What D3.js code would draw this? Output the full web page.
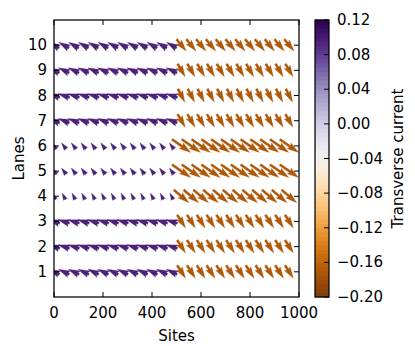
<!DOCTYPE html>
<html><head><meta charset="utf-8">
<script src="https://cdn.jsdelivr.net/npm/d3@7"></script>
<style>body{margin:0;background:#fff} text{font-family:"DejaVu Sans",sans-serif;fill:#000}</style>
</head><body>
<svg id="c" width="415" height="346"></svg>
<script>
// ---------- data ----------
const lanes = [1, 2, 3, 4, 5, 6, 7, 8, 9, 10];
const sites = [0, 40, 80, 120, 160, 200, 240, 280, 320, 360, 400, 440, 480,
               520, 560, 600, 640, 680, 720, 760, 800, 840, 880, 920, 960];
const boundarySite = 500;
// longitudinal / transverse current per lane, left segment (sites < 500)
const leftLongitudinal = [-0.15, -0.16, -0.16, -0.045, -0.066, -0.066, -0.155, -0.16, -0.15, -0.14];
const leftTransverse   = [0.07, 0.05, 0.05, 0.09, 0.088, 0.088, 0.06, 0.05, 0.07, 0.08];
// right segment (sites > 500)
const rightLongitudinal = [0.115, 0.115, 0.115, 0.21, 0.26, 0.26, 0.105, 0.095, 0.105, 0.135];
const rightTransverse   = [-0.18, -0.18, -0.18, -0.18, -0.18, -0.18, -0.18, -0.185, -0.18, -0.165];
// colour value (transverse current) per lane
const leftColourValue  = [0.095, 0.095, 0.095, 0.095, 0.095, 0.095, 0.095, 0.095, 0.095, 0.095];
const rightColourValue = [-0.17, -0.17, -0.17, -0.17, -0.17, -0.17, -0.17, -0.17, -0.17, -0.17];
const xTicks = [0, 200, 400, 600, 800, 1000];
const cbTicks = [0.12, 0.08, 0.04, 0.00, -0.04, -0.08, -0.12, -0.16, -0.20];
const cmin = -0.20, cmax = 0.12;
const puorColours = ["#7f3b08","#b35806","#e08214","#fdb863","#fee0b6","#f7f7f7",
                     "#d8daeb","#b2abd2","#8073ac","#542788","#2d004b"];

// ---------- layout ----------
const L = 54, R = 299, T = 20, B = 297;
const svg = d3.select("#c");
const x = d3.scaleLinear().domain([0, 1000]).range([L, R]);
const y = d3.scaleLinear().domain([0, 11]).range([B, T]);
const cmap = d3.scaleSequential(d3.interpolateRgbBasis(puorColours)).domain([cmin, cmax]);
const k = 72; // px per unit of current
const w = 2.3; // shaft width px

svg.append("defs").append("clipPath").attr("id", "clip")
  .append("rect").attr("x", L).attr("y", T).attr("width", R - L).attr("height", B - T);

function arrowPath(len) {
  const hl = 5 * w, hal = 4.5 * w, hw = 3 * w;
  let s = 1, n = len;
  if (len < hl) { s = len / hl; n = hl; }
  const pts = [[0, 0.5 * w], [n - hal, 0.5 * w], [n - hl, hw / 2], [n, 0],
               [n - hl, -hw / 2], [n - hal, -0.5 * w], [0, -0.5 * w]]
    .map(p => [p[0] * s - len / 2, p[1] * s]);
  return "M" + pts.map(p => p.join(",")).join("L") + "Z";
}

const arrows = [];
lanes.forEach((lane, i) => {
  sites.forEach(site => {
    const left = site < boundarySite;
    const u = left ? leftLongitudinal[i] : rightLongitudinal[i];
    const v = left ? leftTransverse[i] : rightTransverse[i];
    const c = left ? leftColourValue[i] : rightColourValue[i];
    arrows.push({ site, lane, u, v, c });
  });
});

const g = svg.append("g").attr("clip-path", "url(#clip)");
g.selectAll("path").data(arrows).join("path")
  .attr("d", d => arrowPath(k * Math.hypot(d.u, d.v)))
  .attr("transform", d => `translate(${x(d.site)},${y(d.lane)}) rotate(${Math.atan2(-d.v, d.u) * 180 / Math.PI})`)
  .attr("fill", d => cmap(d.c))
  .attr("stroke", d => cmap(d.c)).attr("stroke-opacity", 0.5).attr("stroke-width", 0.5);

// ---------- axes ----------
const tl = 5;
const ax = svg.append("g");
xTicks.forEach(t => {
  ax.append("line").attr("x1", x(t)).attr("x2", x(t)).attr("y1", B).attr("y2", B - tl).attr("stroke", "#000");
  ax.append("line").attr("x1", x(t)).attr("x2", x(t)).attr("y1", T).attr("y2", T + tl).attr("stroke", "#000");
  ax.append("text").attr("x", x(t)).attr("y", 318).attr("text-anchor", "middle")
    .style("font-size", "15px").text(t);
});
lanes.forEach(t => {
  ax.append("line").attr("x1", L).attr("x2", L + tl).attr("y1", y(t)).attr("y2", y(t)).attr("stroke", "#000");
  ax.append("line").attr("x1", R).attr("x2", R - tl).attr("y1", y(t)).attr("y2", y(t)).attr("stroke", "#000");
  ax.append("text").attr("x", 47).attr("y", y(t)).attr("text-anchor", "end")
    .attr("dominant-baseline", "central").style("font-size", "15px").text(t);
});
svg.append("rect").attr("x", L).attr("y", T).attr("width", R - L).attr("height", B - T)
  .attr("fill", "none").attr("stroke", "#000").attr("stroke-width", 1.25);
svg.append("text").attr("x", (L + R) / 2).attr("y", 341).attr("text-anchor", "middle")
  .style("font-size", "15px").text("Sites");
svg.append("text").attr("transform", `translate(24,${(T + B) / 2}) rotate(-90)`)
  .attr("text-anchor", "middle").style("font-size", "15px").text("Lanes");

// ---------- colorbar ----------
const cbL = 315, cbW = 14;
const cy = d3.scaleLinear().domain([cmin, cmax]).range([B, T]);
const steps = d3.range(64).map(i => cmin + (cmax - cmin) * (i + 0.5) / 64);
svg.append("g").selectAll("rect").data(steps).join("rect")
  .attr("x", cbL).attr("width", cbW)
  .attr("y", d => cy(d + (cmax - cmin) / 128) - 0.3)
  .attr("height", (B - T) / 64 + 0.6)
  .attr("fill", d => cmap(d));
cbTicks.forEach(t => {
  svg.append("line").attr("x1", cbL + cbW).attr("x2", cbL + cbW - tl).attr("y1", cy(t)).attr("y2", cy(t))
    .attr("stroke", "#000");
  svg.append("text").attr("x", 337).attr("y", cy(t)).attr("dominant-baseline", "central")
    .style("font-size", "15px").text(d3.format(".2f")(t).replace("-", "\u2212"));
});
svg.append("rect").attr("x", cbL).attr("y", T).attr("width", cbW).attr("height", B - T)
  .attr("fill", "none").attr("stroke", "#000").attr("stroke-width", 1.25);
svg.append("text").attr("transform", `translate(403,${(T + B) / 2}) rotate(-90)`)
  .attr("text-anchor", "middle").style("font-size", "15px").text("Transverse current");
</script>
</body></html>
